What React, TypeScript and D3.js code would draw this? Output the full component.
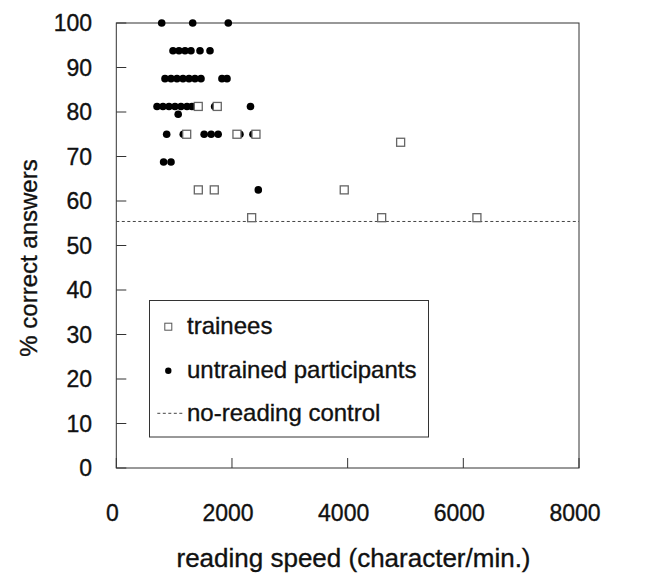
import React from 'react';
import * as d3 from 'd3';

// axis ticks
const xTicks = [0, 2000, 4000, 6000, 8000];
const yTicks = [0, 10, 20, 30, 40, 50, 60, 70, 80, 90, 100];

// trainees (open squares)
const traineeSpeed = [1417, 1746, 1217, 2086, 2415, 4916, 1418, 1694, 3941, 2340, 4588, 6235];
const traineeScore = [81.25, 81.25, 75, 75, 75, 73.2, 62.5, 62.5, 62.5, 56.25, 56.25, 56.25];

// untrained participants (filled dots)
const untrainedSpeed = [
  785, 1321, 1936,
  980, 1084, 1188, 1291, 1447, 1620,
  842, 946, 1049, 1153, 1257, 1360, 1464, 1827, 1914,
  704, 807, 911, 1015, 1118, 1222, 1308, 1700, 2320,
  1070,
  871, 1158, 1519, 1640, 1761, 2138, 2363,
  818, 946,
  2455,
];
const untrainedScore = [
  100, 100, 100,
  93.75, 93.75, 93.75, 93.75, 93.75, 93.75,
  87.5, 87.5, 87.5, 87.5, 87.5, 87.5, 87.5, 87.5, 87.5,
  81.25, 81.25, 81.25, 81.25, 81.25, 81.25, 81.25, 81.25, 81.25,
  79.5,
  75, 75, 75, 75, 75, 75, 75,
  68.75, 68.75,
  62.5,
];

// no-reading control level
const controlScore = 55.4;

const legendLabels = ['trainees', 'untrained participants', 'no-reading control'];

const W = 647;
const H = 577;
const left = 116.3;
const right = 579;
const top = 23;
const bottom = 468;

export default function App() {
  const x = d3.scaleLinear().domain([0, 8000]).range([left, right]);
  const y = d3.scaleLinear().domain([0, 100]).range([bottom, top]);
  const font = '"Liberation Sans", Arial, sans-serif';
  const ink = '#111';
  const sq = 8;
  // slight outline so the text looks as heavy as the scanned original
  const heavy = { stroke: ink, strokeWidth: 0.35 };

  const dashed = d3.line<number>()
    .x((d) => x(d))
    .y(() => y(controlScore))([0, 8000]);

  return (
    <svg
      width={W}
      height={H}
      style={{ position: 'absolute', left: 0, top: 0, display: 'block', background: '#fff' }}
      fontFamily={font}
    >
      {/* plot frame */}
      <rect x={left} y={top} width={right - left} height={bottom - top} fill="none" stroke="#333" strokeWidth={1} />

      {/* y ticks */}
      {yTicks.map((t) => (
        <g key={'y' + t}>
          <line x1={left} x2={left + 10} y1={y(t)} y2={y(t)} stroke="#333" />
          <text x={92} y={y(t)} dy="0.36em" textAnchor="end" fontSize={23} fill={ink} {...heavy}>{t}</text>
        </g>
      ))}

      {/* x ticks */}
      {xTicks.map((t) => (
        <g key={'x' + t}>
          <line x1={x(t)} x2={x(t)} y1={bottom} y2={bottom - 10} stroke="#333" />
          <text x={x(t) - 4} y={521} textAnchor="middle" fontSize={23} fill={ink} {...heavy}>{t}</text>
        </g>
      ))}

      {/* axis titles */}
      <text x={353.5} y={567} textAnchor="middle" fontSize={26} fill={ink} {...heavy}>
        reading speed (character/min.)
      </text>
      <text
        transform={`translate(37, ${258}) rotate(-90)`}
        textAnchor="middle"
        fontSize={24}
        fill={ink}
        {...heavy}
      >
        % correct answers
      </text>

      {/* control line */}
      <path d={dashed || ''} fill="none" stroke="#444" strokeWidth={1} strokeDasharray="3,2.5" />

      {/* untrained participants */}
      {untrainedSpeed.map((s, i) => (
        <circle key={'u' + i} cx={x(s)} cy={y(untrainedScore[i])} r={3.8} fill="#000" />
      ))}

      {/* trainees */}
      {traineeSpeed.map((s, i) => (
        <rect
          key={'t' + i}
          x={x(s) - sq / 2}
          y={y(traineeScore[i]) - sq / 2}
          width={sq}
          height={sq}
          fill="#fff"
          stroke="#666"
          strokeWidth={1.3}
        />
      ))}

      {/* legend */}
      <rect x={149.5} y={300.5} width={279} height={136.5} fill="#fff" stroke="#333" strokeWidth={1} />
      <rect x={164.8} y={323.2} width={7} height={7} fill="#fff" stroke="#555" strokeWidth={1} />
      <circle cx={168.3} cy={370.7} r={3.2} fill="#000" />
      <line x1={157.3} x2={184} y1={413.3} y2={413.3} stroke="#444" strokeWidth={1} strokeDasharray="3,2.5" />
      {legendLabels.map((l, i) => (
        <text key={l} x={187} y={334 + i * 43.5} fontSize={24} fill={ink} {...heavy}>{l}</text>
      ))}
    </svg>
  );
}
